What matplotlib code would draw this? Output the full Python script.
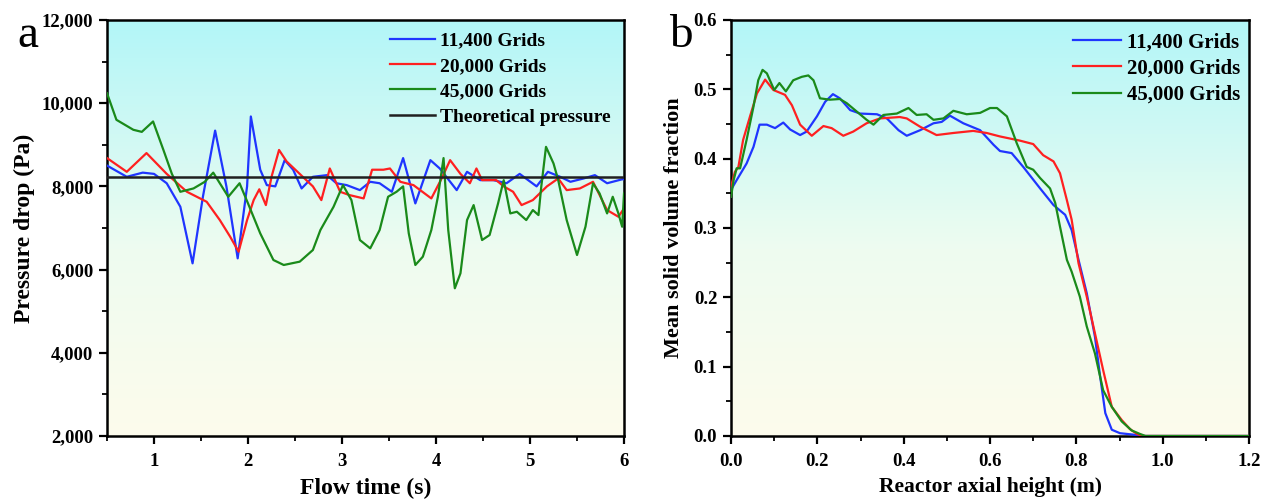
import numpy as np
import matplotlib
matplotlib.use("Agg")
import matplotlib.pyplot as plt
from matplotlib.colors import LinearSegmentedColormap
from matplotlib.ticker import FuncFormatter, MultipleLocator

plt.rcParams["font.family"] = ["Liberation Serif", "DejaVu Serif"]
plt.rcParams["font.weight"] = "bold"

# --------------------------------------------------
# (a) pressure drop vs flow time

t_blue = [0.5, 0.71, 0.88, 1.0, 1.135, 1.28, 1.41, 1.52, 1.65, 1.77, 1.89, 1.99, 2.03,
          2.13, 2.20, 2.29, 2.39, 2.48, 2.57, 2.69, 2.84, 2.94, 3.05, 3.19, 3.30,
          3.40, 3.53, 3.65, 3.78, 3.94, 4.04, 4.22, 4.33, 4.47, 4.61, 4.75, 4.89,
          5.07, 5.19, 5.32, 5.43, 5.57, 5.69, 5.82, 5.98, 6.0]
p_blue = [8500, 8230, 8330, 8300, 8075, 7510, 6150, 7750, 9340, 8000, 6270, 8000, 9680,
          8400, 8030, 8000, 8630, 8400, 7950, 8230, 8270, 8075, 8030, 7910, 8110,
          8075, 7870, 8680, 7590, 8630, 8430, 7910, 8350, 8150, 8150, 8075, 8300,
          8000, 8350, 8230, 8110, 8190, 8270, 8075, 8170, 8170]

t_red = [0.5, 0.71, 0.92, 1.135, 1.35, 1.56, 1.70, 1.81, 1.90, 1.99, 2.06, 2.12, 2.19,
         2.25, 2.33, 2.41, 2.55, 2.69, 2.78, 2.87, 2.98, 3.08, 3.23, 3.32, 3.44,
         3.51, 3.62, 3.76, 3.95, 4.06, 4.15, 4.26, 4.36, 4.43, 4.49, 4.64, 4.72,
         4.82, 4.91, 5.03, 5.18, 5.30, 5.39, 5.53, 5.67, 5.82, 5.94, 6.0]
p_red = [8680, 8350, 8800, 8300, 7870, 7630, 7190, 6790, 6430, 7190, 7670, 7930, 7550,
         8230, 8875, 8600, 8300, 8000, 7670, 8430, 7870, 7790, 7710, 8400, 8400,
         8430, 8110, 8030, 7710, 8190, 8630, 8300, 8075, 8430, 8150, 8150, 8000,
         7870, 7550, 7670, 8000, 8190, 7910, 7950, 8110, 7430, 7270, 7470]

t_green = [0.5, 0.60, 0.78, 0.87, 0.99, 1.10, 1.19, 1.28, 1.42, 1.54, 1.63, 1.70, 1.79,
           1.91, 2.0, 2.13, 2.27, 2.38, 2.55, 2.69, 2.77, 2.91, 3.01, 3.10, 3.19,
           3.30, 3.40, 3.49, 3.58, 3.65, 3.71, 3.78, 3.86, 3.95, 4.02, 4.08, 4.13,
           4.20, 4.26, 4.33, 4.40, 4.49, 4.57, 4.66, 4.72, 4.79, 4.86, 4.96, 5.03,
           5.09, 5.12, 5.17, 5.25, 5.30, 5.39, 5.50, 5.59, 5.67, 5.74, 5.82, 5.88,
           5.94, 5.98, 6.0]
p_green = [10240, 9600, 9360, 9310, 9560, 8875, 8300, 7870, 7950, 8110, 8330, 8075, 7750,
           8075, 7590, 6870, 6230, 6110, 6190, 6470, 6950, 7510, 8030, 7670, 6710,
           6510, 6950, 7750, 7870, 8000, 6870, 6110, 6310, 6950, 7750, 8680, 6950,
           5550, 5910, 7190, 7550, 6710, 6830, 7590, 8150, 7350, 7390, 7190, 7430,
           7310, 8000, 8950, 8550, 8150, 7190, 6350, 7030, 8075, 7830, 7350, 7750,
           7350, 7030, 7830]

p_theory = 8230

# --------------------------------------------------
# (b) mean solid volume fraction vs axial height

h_blue = [0.0, 0.013, 0.036, 0.052, 0.066, 0.083, 0.102, 0.121, 0.137, 0.160, 0.175,
          0.199, 0.218, 0.236, 0.252, 0.276, 0.299, 0.338, 0.361, 0.388, 0.407,
          0.438, 0.469, 0.488, 0.507, 0.538, 0.577, 0.608, 0.623, 0.650, 0.677,
          0.716, 0.747, 0.774, 0.789, 0.805, 0.824, 0.843, 0.855, 0.867, 0.882,
          0.901, 0.931, 0.95, 1.2]
v_blue = [0.355, 0.369, 0.393, 0.417, 0.449, 0.449, 0.444, 0.452, 0.442, 0.434, 0.439,
          0.461, 0.482, 0.493, 0.487, 0.470, 0.465, 0.464, 0.458, 0.441, 0.433,
          0.441, 0.451, 0.453, 0.462, 0.451, 0.441, 0.420, 0.411, 0.408, 0.388,
          0.357, 0.333, 0.319, 0.297, 0.254, 0.206, 0.143, 0.086, 0.033, 0.009,
          0.004, 0.002, 0.0, 0.0]

h_red = [0.0, 0.009, 0.017, 0.028, 0.044, 0.060, 0.079, 0.098, 0.125, 0.141, 0.160,
         0.187, 0.214, 0.233, 0.260, 0.283, 0.314, 0.345, 0.391, 0.407, 0.438,
         0.476, 0.515, 0.561, 0.592, 0.623, 0.669, 0.700, 0.723, 0.747, 0.762,
         0.778, 0.789, 0.805, 0.824, 0.843, 0.862, 0.882, 0.905, 0.924, 0.940,
         0.954, 1.2]
v_red = [0.36, 0.381, 0.388, 0.427, 0.461, 0.494, 0.514, 0.499, 0.492, 0.477, 0.449,
         0.433, 0.447, 0.444, 0.433, 0.439, 0.451, 0.458, 0.460, 0.458, 0.446,
         0.434, 0.437, 0.440, 0.437, 0.432, 0.426, 0.421, 0.405, 0.396, 0.379,
         0.340, 0.312, 0.249, 0.201, 0.148, 0.095, 0.042, 0.023, 0.010, 0.003,
         0.0, 0.0]

h_green = [0.0, 0.006, 0.013, 0.021, 0.036, 0.052, 0.063, 0.073, 0.083, 0.100, 0.112,
           0.127, 0.144, 0.164, 0.179, 0.191, 0.206, 0.229, 0.252, 0.268, 0.291,
           0.314, 0.330, 0.353, 0.384, 0.411, 0.430, 0.453, 0.469, 0.492, 0.515,
           0.546, 0.577, 0.600, 0.616, 0.639, 0.662, 0.685, 0.700, 0.716, 0.739,
           0.751, 0.762, 0.778, 0.789, 0.808, 0.824, 0.843, 0.862, 0.882, 0.905,
           0.928, 0.947, 0.96, 1.2]
v_green = [0.345, 0.369, 0.386, 0.386, 0.427, 0.475, 0.513, 0.528, 0.523, 0.499, 0.509,
           0.497, 0.513, 0.518, 0.520, 0.513, 0.487, 0.485, 0.486, 0.480, 0.468,
           0.456, 0.449, 0.463, 0.465, 0.473, 0.463, 0.464, 0.456, 0.458, 0.469,
           0.464, 0.466, 0.473, 0.473, 0.461, 0.422, 0.388, 0.384, 0.372, 0.357,
           0.336, 0.302, 0.254, 0.237, 0.201, 0.158, 0.119, 0.066, 0.042, 0.021,
           0.008, 0.003, 0.0, 0.0]

labels = ["11,400 Grids", "20,000 Grids", "45,000 Grids"]
colors = ["#1f35ff", "#ff2020", "#1a8a1a"]

# --------------------------------------------------
# figure

fig = plt.figure(figsize=(12.65, 4.99), dpi=100)
ax1 = fig.add_axes([0.0846, 0.1263, 0.4087, 0.8337])
ax2 = fig.add_axes([0.5779, 0.1263, 0.4095, 0.8337])

bg = LinearSegmentedColormap.from_list(
    "bg", [(0.0, "#fdfbec"), (0.45, "#eefcf0"), (1.0, "#b2f6f8")])
grad = np.linspace(0, 1, 256).reshape(-1, 1)


def style(ax):
    ax.imshow(grad, aspect="auto", cmap=bg, origin="lower",
              extent=[0, 1, 0, 1], transform=ax.transAxes, zorder=0)
    for sp in ax.spines.values():
        sp.set_linewidth(1.8)
    ax.tick_params(axis="both", which="major", direction="out", length=6,
                   width=1.6, labelsize=13.5, pad=4, top=False, right=False)
    ax.tick_params(axis="x", which="major", pad=6)
    ax.tick_params(axis="both", which="minor", direction="out", length=3.5,
                   width=1.3, top=False, right=False)
    for lab in ax.get_xticklabels() + ax.get_yticklabels():
        lab.set_fontweight("bold")


# panel a
ax1.plot(t_blue, p_blue, color=colors[0], lw=1.6, label=labels[0], zorder=3)
ax1.plot(t_red, p_red, color=colors[1], lw=1.6, label=labels[1], zorder=3)
ax1.plot(t_green, p_green, color=colors[2], lw=1.6, label=labels[2], zorder=3)
ax1.axhline(p_theory, color="#202020", lw=1.8, label="Theoretical pressure", zorder=4)
ax1.set_xlim(0.5, 6)
ax1.set_ylim(2000, 12000)
ax1.xaxis.set_major_locator(MultipleLocator(1))
ax1.xaxis.set_minor_locator(MultipleLocator(0.5))
ax1.yaxis.set_major_locator(MultipleLocator(2000))
ax1.yaxis.set_minor_locator(MultipleLocator(1000))
ax1.yaxis.set_major_formatter(FuncFormatter(lambda v, p: f"{int(v):,}"))
style(ax1)
ax1.set_xlabel("Flow time (s)", fontsize=17, fontweight="bold", labelpad=6)
ax1.set_ylabel("Pressure drop (Pa)", fontsize=17, fontweight="bold", labelpad=5)
ax1.legend(loc="upper right", frameon=False, prop={"size": 14, "weight": "bold"},
           handlelength=2.3, handletextpad=0.3, labelspacing=0.4,
           borderaxespad=0.0, bbox_to_anchor=(0.99, 0.99))
fig.text(0.0134, 0.906, "a", fontsize=34, fontweight="normal")

# panel b
ax2.plot(h_blue, v_blue, color=colors[0], lw=1.6, label=labels[0], zorder=3)
ax2.plot(h_red, v_red, color=colors[1], lw=1.6, label=labels[1], zorder=3)
ax2.plot(h_green, v_green, color=colors[2], lw=1.6, label=labels[2], zorder=3)
ax2.set_xlim(0, 1.2)
ax2.set_ylim(0, 0.6)
ax2.xaxis.set_major_locator(MultipleLocator(0.2))
ax2.xaxis.set_minor_locator(MultipleLocator(0.1))
ax2.yaxis.set_major_locator(MultipleLocator(0.1))
ax2.yaxis.set_minor_locator(MultipleLocator(0.05))
ax2.xaxis.set_major_formatter(FuncFormatter(lambda v, p: f"{v:.1f}"))
ax2.yaxis.set_major_formatter(FuncFormatter(lambda v, p: f"{v:.1f}"))
style(ax2)
ax2.set_xlabel("Reactor axial height (m)", fontsize=15.5, fontweight="bold", labelpad=5)
ax2.set_ylabel("Mean solid volume fraction", fontsize=16, fontweight="bold", labelpad=7)
ax2.legend(loc="upper right", frameon=False, prop={"size": 15, "weight": "bold"},
           handlelength=2.3, handletextpad=0.3, labelspacing=0.3,
           borderaxespad=0.0, bbox_to_anchor=(1.0, 0.99))
fig.text(0.529, 0.906, "b", fontsize=34, fontweight="normal")

fig.savefig("out.png", dpi=100)
